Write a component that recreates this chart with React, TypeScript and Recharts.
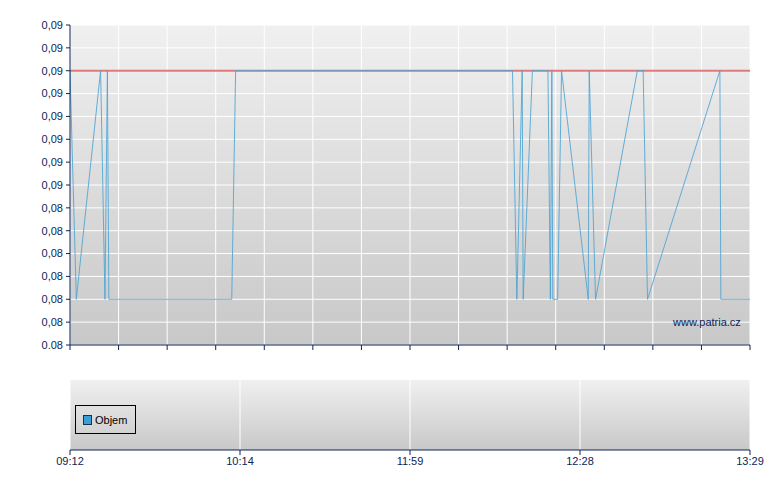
import React from 'react';
import {
  ComposedChart,
  Line,
  XAxis,
  YAxis,
  CartesianGrid,
  ReferenceLine,
} from 'recharts';

// trade positions along the (index based) time axis, 0..14
const tradeIndex = [
  0, 0.13, 0.63, 0.72, 0.77, 0.8, 3.33, 3.41, 9.11, 9.2, 9.31, 9.33, 9.52, 9.84,
  9.89, 9.92, 9.94, 10.04, 10.12, 10.67, 10.69, 10.82, 11.68, 11.8, 11.89, 13.38,
  13.4, 14,
];
const prices = [
  0.09, 0.08, 0.09, 0.08, 0.09, 0.08, 0.08, 0.09, 0.09, 0.08, 0.09,
  0.08, 0.09, 0.09, 0.08, 0.09, 0.08, 0.08, 0.09, 0.08, 0.09, 0.08,
  0.09, 0.09, 0.08, 0.09, 0.08, 0.08,
];
const previousClose = 0.09;

const yTicks = [
  0.092, 0.091, 0.09, 0.089, 0.088, 0.087, 0.086, 0.085, 0.084, 0.083, 0.082,
  0.081, 0.08, 0.079, 0.078,
];
const yTickLabels = [
  '0,09', '0,09', '0,09', '0,09', '0,09', '0,09', '0,09', '0,09',
  '0,08', '0,08', '0,08', '0,08', '0,08', '0,08', '0.08',
];
const xTicksTop = [0, 1, 2, 3, 4, 5, 6, 7, 8, 9, 10, 11, 12, 13, 14];
const xTicksBottom = [0, 3.5, 7, 10.5, 14];
const timeLabels = ['09:12', '10:14', '11:59', '12:28', '13:29'];

const priceData = tradeIndex.map((x, i) => ({ x, price: prices[i] }));
const volumeData = [{ x: 0 }, { x: 14 }];

const navy = '#0c2456';
const font = '"Liberation Sans", Arial, sans-serif';

const yLabel = (v: number) => {
  const i = yTicks.findIndex((t) => Math.abs(t - v) < 1e-5);
  return i >= 0 ? yTickLabels[i] : '';
};
const timeLabel = (v: number) => {
  const i = xTicksBottom.findIndex((t) => Math.abs(t - v) < 1e-5);
  return i >= 0 ? timeLabels[i] : '';
};

export default function App() {
  return (
    <div
      style={{
        position: 'absolute',
        left: 0,
        top: 0,
        width: 780,
        height: 490,
        background: '#fff',
        fontFamily: font,
      }}
    >
      <ComposedChart
        width={780}
        height={360}
        data={priceData}
        margin={{ top: 25, right: 30, left: 0, bottom: 0 }}
      >
        <defs>
          <linearGradient id="bgTop" x1="0" y1="0" x2="0" y2="1">
            <stop offset="0%" stopColor="#f0f0f0" />
            <stop offset="100%" stopColor="#c8c8c8" />
          </linearGradient>
        </defs>
        <CartesianGrid stroke="#ffffff" strokeWidth={1} fill="url(#bgTop)" fillOpacity={1} />
        <XAxis
          dataKey="x"
          type="number"
          domain={[0, 14]}
          ticks={xTicksTop}
          height={15}
          tickFormatter={() => ''}
          stroke={navy}
          tickSize={5}
          allowDataOverflow
        />
        <YAxis
          type="number"
          domain={[0.078, 0.092]}
          ticks={yTicks}
          width={70}
          tickFormatter={yLabel}
          stroke={navy}
          tickSize={4}
          tickMargin={3}
          tick={{ fill: navy, fontSize: 11, fontFamily: font }}
          interval={0}
          allowDataOverflow
        />
        <ReferenceLine y={previousClose} stroke="#e07a7a" strokeWidth={2} />
        <Line
          type="linear"
          dataKey="price"
          stroke="#4aa3d4"
          strokeWidth={1}
          strokeOpacity={0.85}
          dot={false}
          isAnimationActive={false}
        />
      </ComposedChart>

      <div
        style={{
          position: 'absolute',
          left: 673,
          top: 316,
          fontSize: 11,
          color: navy,
          lineHeight: '12px',
        }}
      >
        www.patria.cz
      </div>

      <div style={{ position: 'absolute', left: 0, top: 380 }}>
        <ComposedChart
          width={780}
          height={110}
          data={volumeData}
          margin={{ top: 0, right: 30, left: 70, bottom: 0 }}
        >
          <defs>
            <linearGradient id="bgBottom" x1="0" y1="0" x2="0" y2="1">
              <stop offset="0%" stopColor="#f0f0f0" />
              <stop offset="100%" stopColor="#c8c8c8" />
            </linearGradient>
          </defs>
          <CartesianGrid
            stroke="#ffffff"
            horizontal={false}
            fill="url(#bgBottom)"
            fillOpacity={1}
          />
          <XAxis
            dataKey="x"
            type="number"
            domain={[0, 14]}
            ticks={xTicksBottom}
            tickFormatter={timeLabel}
            height={40}
            stroke={navy}
            tickSize={5}
            tick={{ fill: navy, fontSize: 11, fontFamily: font }}
            interval={0}
          />
          <YAxis hide domain={[0, 1]} />
        </ComposedChart>
      </div>

      <div
        style={{
          position: 'absolute',
          left: 75,
          top: 405,
          width: 59,
          height: 27,
          border: '1px solid #000',
          display: 'flex',
          alignItems: 'center',
          fontSize: 11,
          color: '#000',
        }}
      >
        <span
          style={{
            display: 'inline-block',
            width: 7,
            height: 8,
            background: '#3a9fd6',
            border: '1px solid #1a3050',
            marginLeft: 7,
            marginRight: 3,
          }}
        />
        <span>Objem</span>
      </div>
    </div>
  );
}
